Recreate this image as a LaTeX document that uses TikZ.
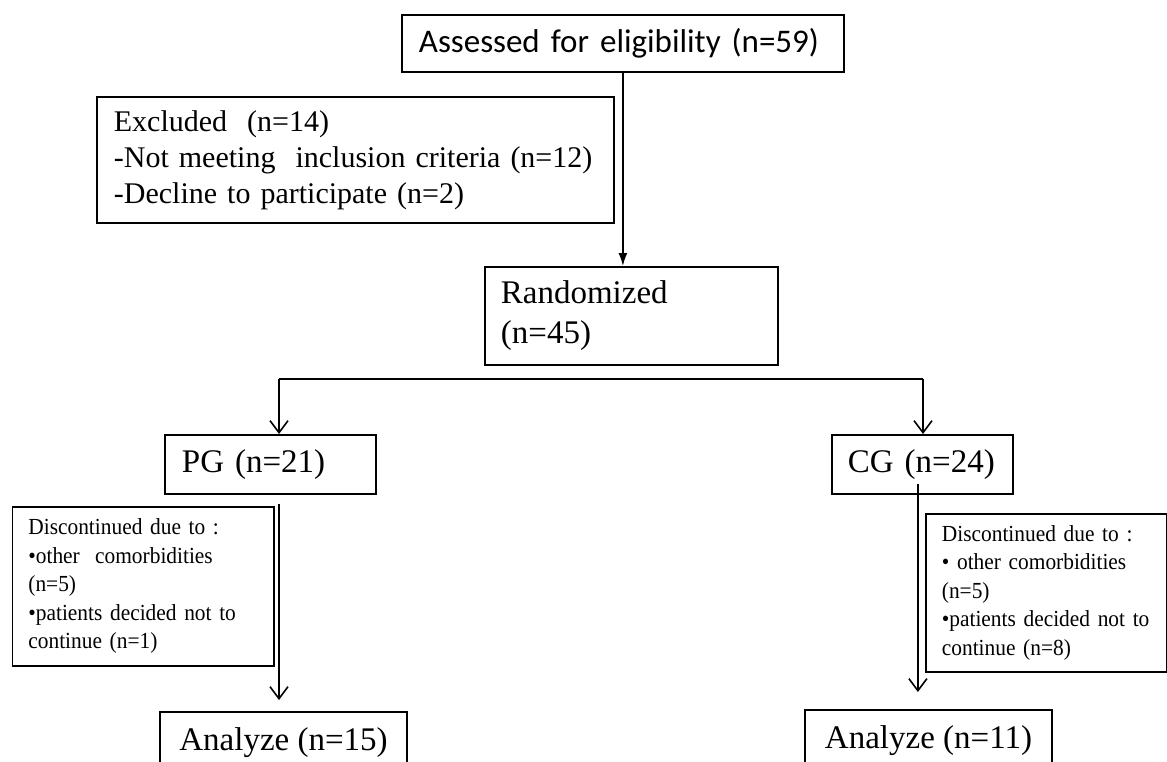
\documentclass[tikz,border=0pt]{standalone}
\usepackage{fontspec}
\setmainfont{Liberation Serif}
\newfontfamily\carlito{Carlito}
\newfontfamily\condserif[FakeStretch=0.93]{Liberation Serif}
\usetikzlibrary{arrows.meta}
\begin{document}
\begin{tikzpicture}[x=1pt,y=-1pt,
  box/.style={draw, line width=1.8pt, rectangle, inner ysep=0pt, anchor=north west, align=left},
  big/.style={font=\fontsize{33}{40}\selectfont},
  mid/.style={font=\fontsize{30}{36}\selectfont},
  small/.style={font=\condserif\fontsize{23}{28.5}\selectfont},
  line/.style={line width=1.6pt},
  conn/.style={line width=1.6pt, -{Straight Barb[length=12pt,width=18pt,line width=1.6pt]}},
  fconn/.style={line width=1.6pt, -{Latex[length=13pt,width=9pt]}}]
\fill[white] (0,0) rectangle (1167,762);
\clip (0,0) rectangle (1167,762);

\node[box, font=\carlito\fontsize{33}{40}\selectfont, inner xsep=17pt, text width=408pt, minimum height=57pt] (assess) at (401,14) {\mbox{Assessed for eligibility (n=59)}};

\node[box, mid, inner xsep=17pt, text width=483pt, minimum height=126pt] (excl) at (96,96)
 {\mbox{Excluded\ \ (n=14)}\\ \mbox{-Not meeting\ \ inclusion criteria (n=12)}\\ \mbox{-Decline to participate (n=2)}};

\node[box, font=\fontsize{33}{40}\selectfont, inner xsep=16pt, text width=261pt, minimum height=98pt] (rand) at (484,266)
 {Randomized\\ (n=45)};

\node[box, big, inner xsep=17pt, text width=177pt, minimum height=59pt] (pg) at (164,434) {\mbox{PG (n=21)}};
\node[box, big, inner xsep=16pt, text width=149pt, minimum height=59pt] (cg) at (831,434) {\mbox{CG (n=24)}};

\node[box, small, inner xsep=16pt, text width=229.5pt, minimum height=159pt] (discL) at (11.5,506)
 {\mbox{Discontinued due to :}\\ \mbox{•other\ \ comorbidities}\\ (n=5)\\ \mbox{•patients decided not to}\\ \mbox{continue (n=1)}};

\node[box, small, inner xsep=16pt, text width=209pt, minimum height=158pt] (discR) at (925,513)
 {\mbox{Discontinued due to :}\\ \mbox{• other comorbidities}\\ (n=5)\\ \mbox{•patients decided not to}\\ \mbox{continue (n=8)}};

\node[box, big, anchor=north, align=center, inner xsep=0pt, inner ysep=16pt, minimum width=247pt] (anL) at (283.5,711) {Analyze (n=15)};
\node[box, big, anchor=north, align=center, inner xsep=0pt, inner ysep=16pt, minimum width=247pt] (anR) at (928.5,709) {Analyze (n=11)};

% connectors
\draw[fconn] (assess.south) -- (assess.south |- rand.north);

\coordinate (spL) at (279,379);
\coordinate (spR) at (923,379);
\draw[line] (spL) -- (spR);
\draw[conn] (spL) -- (spL |- pg.north);
\draw[conn] (spR) -- (spR |- cg.north);

\path (pg.south -| spL) ++(0,9) coordinate (pgout);
\path (anL.north -| spL) ++(0,-11) coordinate (anLin);
\draw[conn] (pgout) -- (anLin);

\path (cg.south) ++(-4.5,-11) coordinate (cgout);
\path (anR.north -| cgout) ++(0,-17) coordinate (anRin);
\draw[conn] (cgout) -- (anRin);
\end{tikzpicture}
\end{document}
